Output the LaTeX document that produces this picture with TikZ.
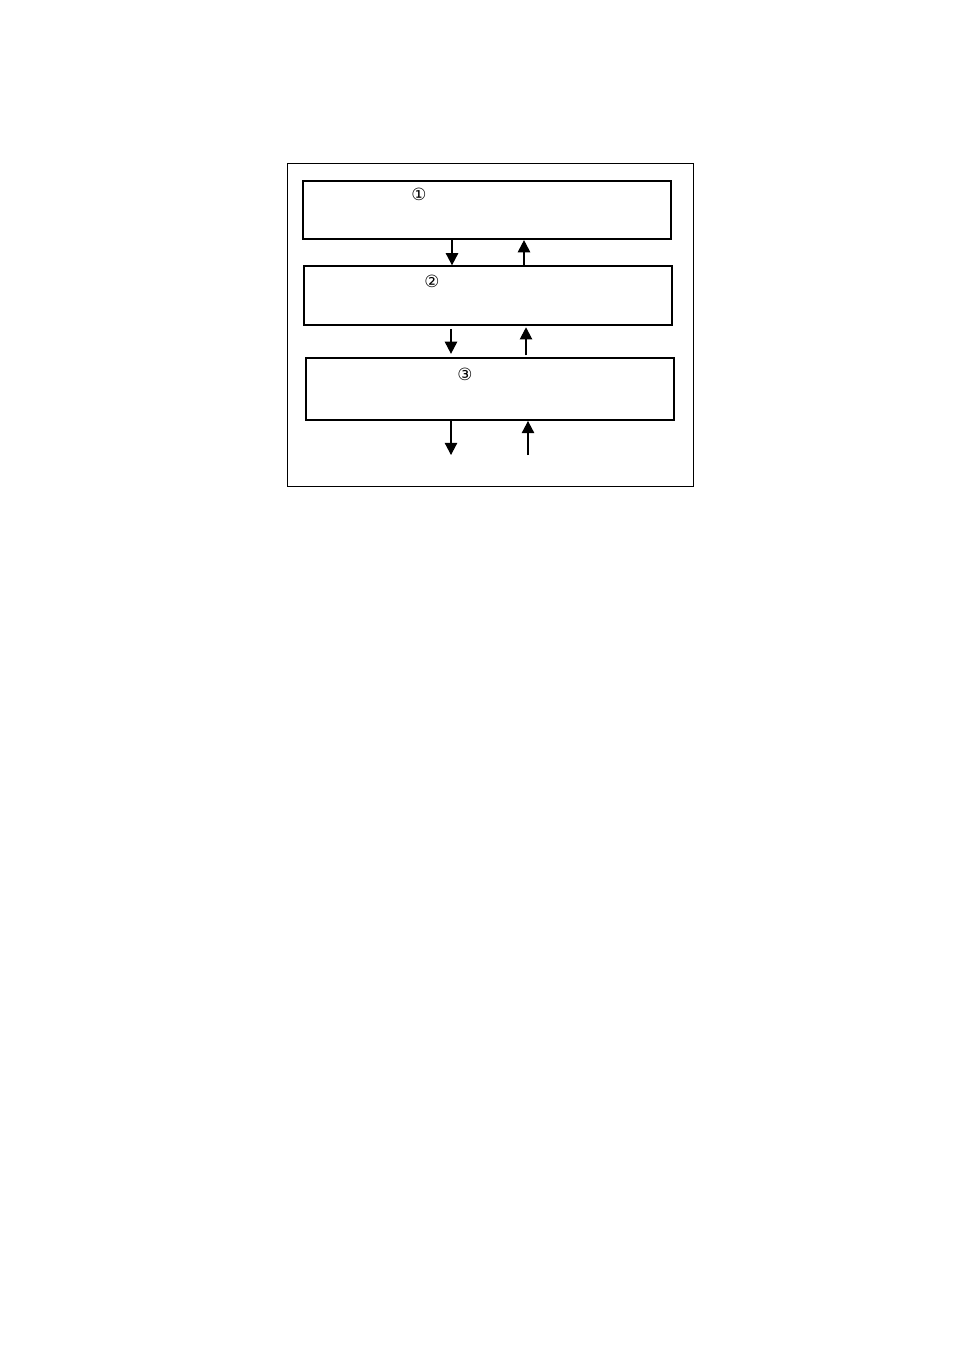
\documentclass[tikz,border=0pt]{standalone}
\usepackage{fontspec}
\newfontfamily\symfont{DejaVu Sans}
\usetikzlibrary{arrows.meta}

\begin{document}
\begin{tikzpicture}[x=0.624pt,y=-0.624pt,
    box/.style={draw, line width=0.9pt, minimum width=229.6pt, inner sep=0pt},
    num/.style={font=\symfont\fontsize{10.5}{12}\selectfont, inner sep=0pt},
    flow/.style={-{Triangle[width=7.8pt,length=7.6pt]}, line width=0.7pt}]

    % Page area
    \useasboundingbox (0,0) rectangle (954,1351);

    % Outer frame
    \draw[line width=0.6pt] (287,163) rectangle (693.5,486.5);

    % The three stacked boxes
    \node[box, line width=1.4pt, minimum height=36.2pt] (b1) at (487,210) {};
    \node[box, minimum height=36.8pt] (b2) at (488,295.5) {};
    \node[box, line width=1.2pt, minimum height=38.7pt] (b3) at (490,389) {};

    % Circled numbers
    \node[num] (n1) at (419,194.5) {①};
    \node[num] (n2) at (432,281) {②};
    \node[num] (n3) at (465,374) {③};

    % Columns of the arrows
    \coordinate (d1) at (452,0);
    \coordinate (u1) at (524,0);
    \coordinate (d2) at (451,0);
    \coordinate (u2) at (526,0);
    \coordinate (d3) at (451,0);
    \coordinate (u3) at (528,0);

    % Free ends below the last box
    \coordinate (e3) at (451,455);
    \coordinate (s3) at (528,455);

    % Arrows between box 1 and box 2
    \draw[flow] (b1.south -| d1) -- (b2.north -| d1);
    \draw[flow] (b2.north -| u1) -- (b1.south -| u1);

    % Arrows between box 2 and box 3
    \draw[flow, shorten <=2pt, shorten >=2pt] (b2.south -| d2) -- (b3.north -| d2);
    \draw[flow, shorten <=1pt, shorten >=1pt] (b3.north -| u2) -- (b2.south -| u2);

    % Arrows below box 3
    \draw[flow] (b3.south -| d3) -- (e3);
    \draw[flow] (s3) -- (b3.south -| u3);

\end{tikzpicture}
\end{document}
